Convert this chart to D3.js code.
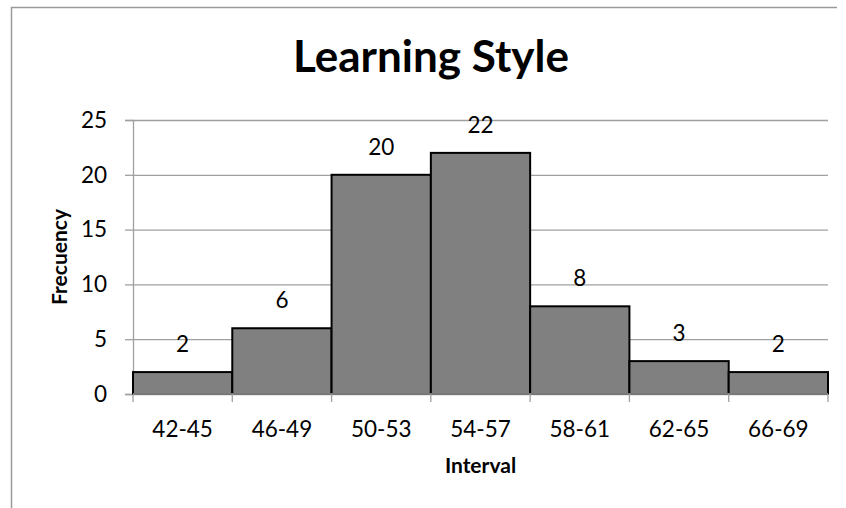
<!DOCTYPE html>
<html>
<head>
<meta charset="utf-8">
<script src="https://cdn.jsdelivr.net/npm/d3@7"></script>
<style>
  html, body { margin: 0; padding: 0; background: #fff; }
  svg { display: block; font-family: Lato, "Open Sans", sans-serif; }
</style>
</head>
<body>
<svg id="chart" width="846" height="508"></svg>
<script>
// Histogram of learning-style scores
const intervals = ["42-45", "46-49", "50-53", "54-57", "58-61", "62-65", "66-69"];
const frequencies = [2, 6, 20, 22, 8, 3, 2];
const yTicks = [0, 5, 10, 15, 20, 25];

const svg = d3.select("#chart");
const plot = { left: 133, right: 828, top: 120, bottom: 394 };

// chart frame (top and left edges)
svg.append("path")
  .attr("d", "M11.5,508 L11.5,7.5 L837,7.5")
  .attr("fill", "none").attr("stroke", "#9a9a9a").attr("stroke-width", 1.5);

const x = d3.scaleBand().domain(intervals).range([plot.left, plot.right]).padding(0);
const y = d3.scaleLinear().domain([0, 25]).range([plot.bottom, plot.top]);

// horizontal gridlines with the y axis
const yAxis = d3.axisLeft(y).tickValues(yTicks).tickSize(8).tickPadding(18);
const gy = svg.append("g").attr("transform", `translate(${plot.left},0)`).call(yAxis);
gy.select(".domain").attr("stroke", "#a0a0a0").attr("stroke-width", 1.3);
gy.selectAll(".tick line").attr("stroke", "#a0a0a0").attr("stroke-width", 1.3);
gy.selectAll(".tick text").attr("font-size", 22.5).attr("fill", "#000").attr("font-family", "Lato");
gy.selectAll(".tick").append("line")
  .attr("x1", 0).attr("x2", plot.right - plot.left)
  .attr("stroke", "#a0a0a0").attr("stroke-width", 1.3);

// bars
svg.append("g").selectAll("rect")
  .data(frequencies)
  .join("rect")
  .attr("x", (d, i) => x(intervals[i]))
  .attr("y", d => y(d))
  .attr("width", x.bandwidth())
  .attr("height", d => y(0) - y(d))
  .attr("fill", "#808080")
  .attr("stroke", "#000")
  .attr("stroke-width", 2);

// x axis with ticks at interval boundaries
const bounds = intervals.map(c => x(c)).concat([plot.right]);
svg.append("line")
  .attr("x1", plot.left).attr("x2", plot.right)
  .attr("y1", plot.bottom).attr("y2", plot.bottom)
  .attr("stroke", "#a0a0a0").attr("stroke-width", 1.3);
svg.append("g").selectAll("line")
  .data(bounds)
  .join("line")
  .attr("x1", d => d).attr("x2", d => d)
  .attr("y1", plot.bottom).attr("y2", plot.bottom + 8)
  .attr("stroke", "#a0a0a0").attr("stroke-width", 1.3);
svg.append("g").selectAll("text")
  .data(intervals)
  .join("text")
  .attr("x", d => x(d) + x.bandwidth() / 2)
  .attr("y", 437)
  .attr("text-anchor", "middle")
  .attr("font-size", 22.5)
  .text(d => d);

// value labels
svg.append("g").selectAll("text")
  .data(frequencies)
  .join("text")
  .attr("x", (d, i) => x(intervals[i]) + x.bandwidth() / 2)
  .attr("y", d => y(d) - 20)
  .attr("text-anchor", "middle")
  .attr("font-size", 22.5)
  .text(d => d);

// titles
svg.append("text")
  .attr("x", 431).attr("y", 72)
  .attr("text-anchor", "middle")
  .attr("font-size", 44).attr("font-weight", "bold")
  .text("Learning Style");

svg.append("text")
  .attr("x", 480.5).attr("y", 473)
  .attr("text-anchor", "middle")
  .attr("font-size", 21).attr("font-weight", "bold")
  .text("Interval");

svg.append("text")
  .attr("transform", "translate(67,257) rotate(-90)")
  .attr("text-anchor", "middle")
  .attr("font-size", 21).attr("font-weight", "bold")
  .text("Frecuency");
</script>
</body>
</html>
